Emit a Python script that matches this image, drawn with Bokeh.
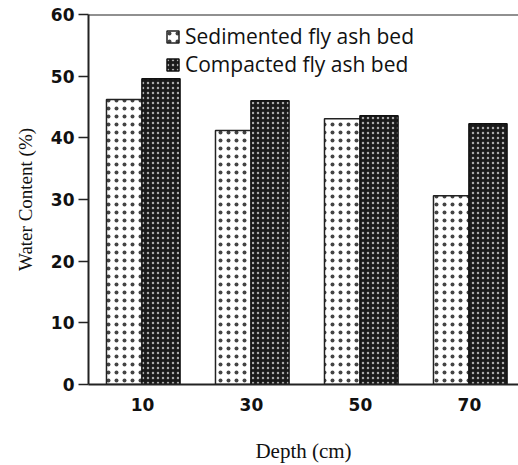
from bokeh.plotting import figure
from bokeh.models import ColumnDataSource, FixedTicker, Span, Legend, LegendItem, Range1d
from bokeh.transform import dodge
from bokeh.embed import file_html
from bokeh.resources import INLINE

depths = ["10", "30", "50", "70"]
sedimented = [46.2, 41.2, 43.1, 30.6]
compacted = [49.6, 46.0, 43.6, 42.3]

xpos = list(range(len(depths)))
src = ColumnDataSource(dict(x=xpos, sed=sedimented, comp=compacted))

p = figure(width=518, height=465, output_backend="svg", toolbar_location=None,
           x_range=Range1d(-0.495, 3.45), y_range=Range1d(0, 60),
           min_border_left=88, min_border_top=14, min_border_bottom=81, min_border_right=0)
p.outline_line_color = None
p.grid.grid_line_color = None
p.background_fill_color = "white"

r1 = p.vbar(x=dodge("x", -0.165, range=p.x_range), top="sed", width=0.33, source=src,
            fill_color="white", line_color="#222", line_width=1.5,
            hatch_pattern="dot", hatch_color="#444", hatch_scale=8, hatch_weight=1.8)
r2 = p.vbar(x=dodge("x", 0.17, range=p.x_range), top="comp", width=0.35, source=src,
            fill_color="#1a1a1a", line_color="#111", line_width=1.5,
            hatch_pattern="dot", hatch_color="#aaaaaa", hatch_scale=5, hatch_weight=2.0)

p.add_layout(Span(location=60, dimension="width", line_color="#222", line_width=2))

legend = Legend(items=[LegendItem(label="Sedimented fly ash bed", renderers=[r1]),
                       LegendItem(label="Compacted fly ash bed", renderers=[r2])],
                location=(77, 306), padding=0, margin=0, spacing=0,
                glyph_width=15, glyph_height=15, label_standoff=5,
                label_text_font="Open Sans", label_text_font_size="21px",
                label_text_color="#111", label_height=24,
                border_line_color=None, background_fill_alpha=0)
p.add_layout(legend)

# x axis
p.xaxis.ticker = FixedTicker(ticks=xpos)
p.xaxis.major_label_overrides = {i: d for i, d in zip(xpos, depths)}
p.xaxis.major_tick_line_color = None
p.xaxis.minor_tick_line_color = None
p.xaxis.major_label_standoff = 7
p.xaxis.major_label_text_font = "DejaVu Sans"
p.xaxis.major_label_text_font_style = "bold"
p.xaxis.major_label_text_font_size = "17px"
p.xaxis.major_label_text_color = "#111"
p.xaxis.axis_line_width = 2
p.xaxis.axis_line_color = "#222"
p.xaxis.axis_label = "Depth (cm)"
p.xaxis.axis_label_text_font = "Liberation Serif"
p.xaxis.axis_label_text_font_style = "normal"
p.xaxis.axis_label_text_font_size = "21px"
p.xaxis.axis_label_text_color = "#111"
p.xaxis.axis_label_standoff = 25

# y axis
p.yaxis.ticker = FixedTicker(ticks=[0, 10, 20, 30, 40, 50, 60])
p.yaxis.major_tick_in = 0
p.yaxis.major_tick_out = 10
p.yaxis.major_tick_line_width = 1.5
p.yaxis.major_tick_line_color = "#222"
p.yaxis.minor_tick_line_color = None
p.yaxis.major_label_standoff = 4
p.yaxis.major_label_text_font = "DejaVu Sans"
p.yaxis.major_label_text_font_style = "bold"
p.yaxis.major_label_text_font_size = "17px"
p.yaxis.major_label_text_color = "#111"
p.yaxis.axis_line_width = 2
p.yaxis.axis_line_color = "#222"
p.yaxis.axis_label = "Water Content (%)"
p.yaxis.axis_label_text_font = "Liberation Serif"
p.yaxis.axis_label_text_font_style = "normal"
p.yaxis.axis_label_text_font_size = "19px"
p.yaxis.axis_label_text_color = "#111"
p.yaxis.axis_label_standoff = 12

open("out.html", "w").write(file_html(p, INLINE))
